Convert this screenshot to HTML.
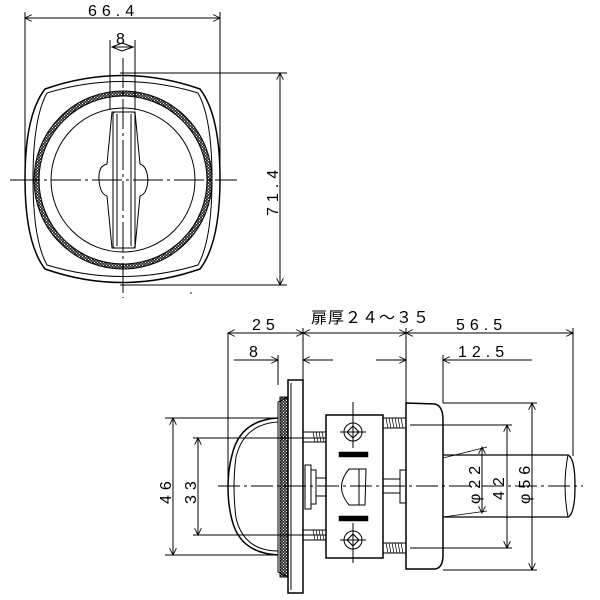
<!DOCTYPE html>
<html><head><meta charset="utf-8"><style>
html,body{margin:0;padding:0;background:#fff;width:600px;height:600px;overflow:hidden}
svg text{font-family:"Liberation Sans","Noto Sans CJK JP",sans-serif;font-size:16px;fill:#000;letter-spacing:5px}
</style></head><body>
<svg width="600" height="600" viewBox="0 0 600 600" xmlns="http://www.w3.org/2000/svg">
<defs>
<marker id="a" viewBox="0 0 10 10" refX="10" refY="5" markerWidth="9" markerHeight="7" orient="auto-start-reverse" markerUnits="userSpaceOnUse"><path d="M0,0 L10,5 L0,10" fill="none" stroke="#000" stroke-width="1.2"/></marker>
<pattern id="beads" width="3" height="3" patternUnits="userSpaceOnUse"><circle cx="1.5" cy="1.5" r="1.1" fill="none" stroke="#000" stroke-width="0.8"/></pattern>
</defs>
<g fill="none" stroke="#000" stroke-width="1">
<!-- TOP VIEW -->
<line x1="25" y1="12" x2="25" y2="180"/><line x1="220" y1="12" x2="220" y2="180"/>
<line x1="25" y1="18" x2="220" y2="18" marker-start="url(#a)" marker-end="url(#a)"/>
<line x1="110" y1="40" x2="110" y2="110"/><line x1="135" y1="40" x2="135" y2="110"/>
<line x1="112" y1="47" x2="134" y2="47"/><path d="M112,47 L122,43 L133,47 L122,51 Z"/>
<line x1="120" y1="73" x2="287" y2="73"/><line x1="120" y1="285" x2="287" y2="285"/>
<line x1="280" y1="73" x2="280" y2="285" marker-start="url(#a)" marker-end="url(#a)"/>
<path d="M25,179 Q25,115 45,89 Q122,62 200,89 Q220,115 220,179 Q220,243 200,269 Q122,296 45,269 Q25,243 25,179 Z" stroke-width="1.5"/>
<path d="M33,179 Q33,118 47,93 Q122,70 198,93 Q212,118 212,179 Q212,240 198,265 Q122,288 47,265 Q33,240 33,179 Z"/>
<circle cx="123" cy="180" r="86.5" stroke="url(#beads)" stroke-width="5"/>
<circle cx="123" cy="180" r="89"/><circle cx="123" cy="180" r="84"/>
<circle cx="123" cy="180" r="72"/>
<path d="M112,112 L107,164 Q98,166 99,180 Q100,194 107,196 L112,248 L135,248 L140,196 Q147,194 148,180 Q147,166 140,164 L135,112 Z"/>
<rect x="113" y="112" width="22" height="136" rx="2"/>
<line x1="117" y1="114" x2="117" y2="246"/><line x1="131" y1="114" x2="131" y2="246"/>
<line x1="10" y1="180" x2="237" y2="180" stroke-dasharray="30,4,3,4"/>
<line x1="123" y1="58" x2="123" y2="298" stroke-dasharray="30,4,3,4"/>

<!-- SIDE VIEW dimensions -->
<line x1="228" y1="333" x2="228" y2="487"/><line x1="278" y1="355" x2="278" y2="385"/>
<line x1="303" y1="328" x2="303" y2="380"/><line x1="406" y1="328" x2="406" y2="403"/>
<line x1="443" y1="355" x2="443" y2="403"/><line x1="573" y1="328" x2="573" y2="456"/>
<line x1="228" y1="333" x2="303" y2="333" marker-start="url(#a)" marker-end="url(#a)"/>
<line x1="303" y1="333" x2="406" y2="333" marker-start="url(#a)" marker-end="url(#a)"/>
<line x1="406" y1="333" x2="573" y2="333" marker-start="url(#a)" marker-end="url(#a)"/>
<line x1="234" y1="360" x2="278" y2="360" marker-end="url(#a)"/>
<line x1="333" y1="360" x2="303" y2="360" marker-end="url(#a)"/>
<line x1="376" y1="360" x2="406" y2="360" marker-end="url(#a)"/>
<line x1="532" y1="360" x2="443" y2="360" marker-end="url(#a)"/>
<line x1="165" y1="418" x2="278" y2="418"/><line x1="165" y1="555" x2="278" y2="555"/>
<line x1="173" y1="418" x2="173" y2="555" marker-start="url(#a)" marker-end="url(#a)"/>
<line x1="193" y1="438" x2="326" y2="438"/><line x1="193" y1="535" x2="326" y2="535"/>
<line x1="198" y1="438" x2="198" y2="535" marker-start="url(#a)" marker-end="url(#a)"/>
<line x1="443" y1="403" x2="537" y2="403"/><line x1="443" y1="570" x2="537" y2="570"/>
<line x1="532" y1="403" x2="532" y2="570" marker-start="url(#a)" marker-end="url(#a)"/>
<line x1="410" y1="425" x2="512" y2="425"/><line x1="410" y1="548" x2="512" y2="548"/>
<line x1="507" y1="425" x2="507" y2="548" marker-start="url(#a)" marker-end="url(#a)"/>
<line x1="482" y1="447" x2="482" y2="513" marker-start="url(#a)" marker-end="url(#a)"/>

<!-- plate -->
<rect x="288" y="380" width="15" height="213" stroke-width="1.5"/>
<line x1="291" y1="383" x2="291" y2="590"/>
<rect x="280" y="397" width="8" height="180" fill="url(#beads)"/>
<path d="M288,397 L278,402 L278,572 L288,577"/>
<!-- dome -->
<path d="M278,418 Q240,420 232,455 Q228,470 228,487 Q228,505 232,520 Q240,553 278,555" stroke-width="1.5"/>
<path d="M278,422 Q244,424 236,457 Q232,487 236,518 Q244,551 278,551"/>
<!-- center spindle parts -->
<rect x="305" y="465" width="6" height="44"/><rect x="311" y="470" width="5" height="34"/><rect x="316" y="478" width="10" height="18"/>
<!-- left screws -->
<rect x="303" y="432" width="23" height="10"/><rect x="303" y="530" width="23" height="10"/>
<g stroke-width="0.7"><path d="M313,432 l2,10 M316,432 l2,10 M319,432 l2,10 M322,432 l2,10 M313,530 l2,10 M316,530 l2,10 M319,530 l2,10 M322,530 l2,10"/></g>
<!-- case -->
<rect x="326" y="415" width="57" height="143" stroke-width="1.5"/>
<circle cx="353" cy="432" r="9"/><path d="M353,426 L359,432 L353,438 L347,432 Z"/><path d="M350,432 h6 M353,429 v6"/>
<circle cx="353" cy="540" r="9"/><path d="M353,534 L359,540 L353,546 L347,540 Z"/><path d="M350,540 h6 M353,537 v6"/>
<line x1="340" y1="432" x2="366" y2="432"/><line x1="353" y1="402" x2="353" y2="448"/>
<line x1="340" y1="540" x2="366" y2="540"/><line x1="353" y1="523" x2="353" y2="563"/>
<rect x="339" y="452" width="29" height="5" fill="#000" stroke-width="0.5"/>
<rect x="339" y="516" width="29" height="5" fill="#000" stroke-width="0.5"/>
<path d="M366,469 L365,505 L349,505 Q334,487 349,469 Z"/>
<line x1="359" y1="469" x2="359" y2="505"/>
<!-- right screws & spindle -->
<rect x="383" y="418" width="23" height="10"/><rect x="383" y="543" width="23" height="10"/>
<g stroke-width="0.7"><path d="M386,418 l2,10 M389,418 l2,10 M392,418 l2,10 M395,418 l2,10 M398,418 l2,10 M401,418 l2,10 M386,543 l2,10 M389,543 l2,10 M392,543 l2,10 M395,543 l2,10 M398,543 l2,10 M401,543 l2,10"/></g>
<rect x="383" y="479" width="17" height="14"/><rect x="400" y="470" width="6" height="33"/>
<!-- rosette -->
<path d="M406,403 L435,404 Q443,406 443,420 L443,555 Q443,568 435,569 L406,569 Z" stroke-width="1.5"/>
<!-- knob -->
<path d="M443,458 L487,447 M443,517 L487,511" stroke-width="0.8"/>
<path d="M443,455 L568,455 Q575,458 575,486 Q575,514 568,517 L443,517" stroke-width="1.3"/>
<path d="M568,455 Q562,486 568,517"/>
<line x1="218" y1="486" x2="583" y2="486" stroke-dasharray="22,4,3,4"/>
</g>
<circle cx="191" cy="293" r="0.8" fill="#000"/>
<text x="88" y="16">66.4</text>
<text x="116" y="44" style="letter-spacing:0">8</text>
<text transform="translate(278,216) rotate(-90)">71.4</text>
<text x="252" y="330">25</text>
<text x="311" y="323" style="letter-spacing:1px">扉厚２４～３５</text>
<text x="456" y="330">56.5</text>
<text x="249" y="357">8</text>
<text x="458" y="357">12.5</text>
<text transform="translate(171,504) rotate(-90)">46</text>
<text transform="translate(196,504) rotate(-90)">33</text>
<text transform="translate(480,504) rotate(-90)">φ22</text>
<text transform="translate(504,500) rotate(-90)">42</text>
<text transform="translate(530,504) rotate(-90)">φ56</text>
</svg>
</body></html>
